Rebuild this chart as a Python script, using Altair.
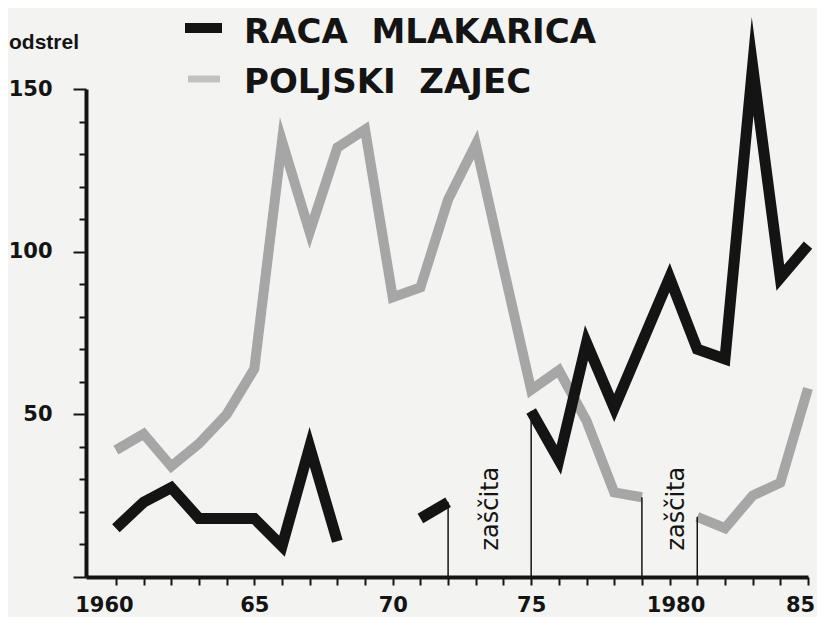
import altair as alt
import pandas as pd

# ---- data ----
years = list(range(1960, 1986))
raca = [15, 23, 27.5, 18, 18, 18, 9.5, 40, 11, None, None, 18, 23, None, None,
        51, 36, 72, 52, 72, 92, 70, 67, 157, 92, 102]
zajec = [39, 44, 34, 41, 50, 64, 134, 106, 132, 137.5, 86, 89, 116, 133, 95,
         57.5, 63.5, 48, 26, 24.5, None, 18.5, 15, 25, 29, 58]

series_names = ["RACA\u00a0\u00a0MLAKARICA", "POLJSKI\u00a0\u00a0ZAJEC"]

rule_years = [1972, 1975, 1979, 1981]
rule_tops = [23, 51, 24.5, 18.5]

note_text = ["zaščita", "zaščita"]
note_x = [1973.55, 1980.25]
note_y = [21, 21]

y_ticks = list(range(0, 151, 10))
x_tick_labels = {1960: "1960", 1965: "65", 1970: "70", 1975: "75", 1980: "1980", 1985: "85"}


def to_rows(name, vals):
    rows, seg, prev = [], 0, None
    for yr, v in zip(years, vals):
        if v is None:
            if prev is not None:
                seg += 1
            prev = None
            continue
        rows.append({"series": name, "year": yr, "value": v, "seg": seg})
        prev = v
    return rows


df_raca = pd.DataFrame(to_rows("raca", raca))
df_zajec = pd.DataFrame(to_rows("zajec", zajec))
df_rules = pd.DataFrame({"year": rule_years, "value": rule_tops})
df_notes = pd.DataFrame({"year": note_x, "value": note_y, "t": note_text})

label_expr = " : ".join(
    f"datum.value == {k} ? '{v}'" for k, v in x_tick_labels.items()
) + " : ''"

FONT = "DejaVu Sans"
INK = "#141414"
GRAY = "#a6a6a6"

x_axis = alt.Axis(
    values=years,
    labelExpr=label_expr,
    title=None,
    grid=False,
    tickSize=8,
    tickWidth=2,
    tickColor=INK,
    domainWidth=4,
    domainColor=INK,
    labelFont=FONT,
    labelFontWeight="bold",
    labelFontSize=21,
    labelColor=INK,
    labelPadding=9,
    labelOverlap=False,
    labelFlush=False,
    labelOffset={"condition": [
        {"test": "datum.value == 1960", "value": -12},
        {"test": "datum.value == 1980", "value": 6},
        {"test": "datum.value == 1985", "value": -8},
    ], "value": 0},
)
y_axis = alt.Axis(
    values=y_ticks,
    labelExpr="datum.value > 0 && datum.value % 50 == 0 ? datum.label : ''",
    title=None,
    grid=False,
    tickSize={"condition": {"test": "datum.value % 50 == 0", "value": 13}, "value": 7},
    tickWidth=2,
    tickColor=INK,
    domainWidth=4,
    domainColor=INK,
    labelFont=FONT,
    labelFontWeight="bold",
    labelFontSize=21,
    labelColor=INK,
    labelPadding=21,
    labelOverlap=False,
    labelFlush=False,
)
x_scale = alt.Scale(domain=[1958.92, 1985], nice=False, zero=False)
y_scale = alt.Scale(domain=[0, 150], nice=False)


def X():
    return alt.X("year:Q", scale=x_scale, axis=x_axis)


def Y():
    return alt.Y("value:Q", scale=y_scale, axis=y_axis)


gray_line = alt.Chart(df_zajec).mark_line(
    color=GRAY, strokeWidth=10, strokeJoin="miter", strokeMiterLimit=14,
    strokeCap="butt", clip=False
).encode(x=X(), y=Y(), detail="seg:N")

black_line = alt.Chart(df_raca).mark_line(
    color=INK, strokeWidth=11, strokeJoin="miter", strokeMiterLimit=14,
    strokeCap="butt", clip=False
).encode(x=X(), y=Y(), detail="seg:N")

rules = alt.Chart(df_rules).mark_rule(color=INK, strokeWidth=1.5).encode(
    x=X(), y=Y(), y2=alt.datum(0)
)

notes = alt.Chart(df_notes).mark_text(
    angle=270, font=FONT, fontSize=24, color=INK, align="center", baseline="middle"
).encode(x=X(), y=Y(), text="t:N")

# legend (drawn by hand, like the original)
leg_black_sw = alt.Chart(pd.DataFrame({"a": [0]})).mark_rule(color=INK, strokeWidth=10).encode(
    x=alt.value(99), x2=alt.value(136), y=alt.value(-61)
)
leg_gray_sw = alt.Chart(pd.DataFrame({"a": [0]})).mark_rule(color="#c2c2c2", strokeWidth=7).encode(
    x=alt.value(102), x2=alt.value(134), y=alt.value(-10)
)
leg_t1 = alt.Chart(pd.DataFrame({"t": [series_names[0]]})).mark_text(
    font=FONT, fontWeight="bold", fontSize=34, color=INK, align="left", baseline="alphabetic"
).encode(x=alt.value(158), y=alt.value(-46), text="t:N")
leg_t2 = alt.Chart(pd.DataFrame({"t": [series_names[1]]})).mark_text(
    font=FONT, fontWeight="bold", fontSize=34, color=INK, align="left", baseline="alphabetic"
).encode(x=alt.value(158), y=alt.value(4), text="t:N")

ylab = alt.Chart(pd.DataFrame({"t": ["odstrel"]})).mark_text(
    font="Liberation Sans", fontWeight="bold", fontSize=21, color=INK,
    align="right", baseline="alphabetic"
).encode(x=alt.value(-7), y=alt.value(-40), text="t:N")

chart = alt.layer(
    gray_line, black_line, rules, notes, leg_black_sw, leg_gray_sw, leg_t1, leg_t2, ylab
).properties(
    width=722,
    height=488,
    autosize=alt.AutoSizeParams(type="none"),
    padding={"left": 78, "top": 81, "right": 9, "bottom": 40},
    background="#f3f3f1",
).configure_view(stroke=None)

chart.save("out.html", embed_options={"renderer": "svg", "actions": False})
